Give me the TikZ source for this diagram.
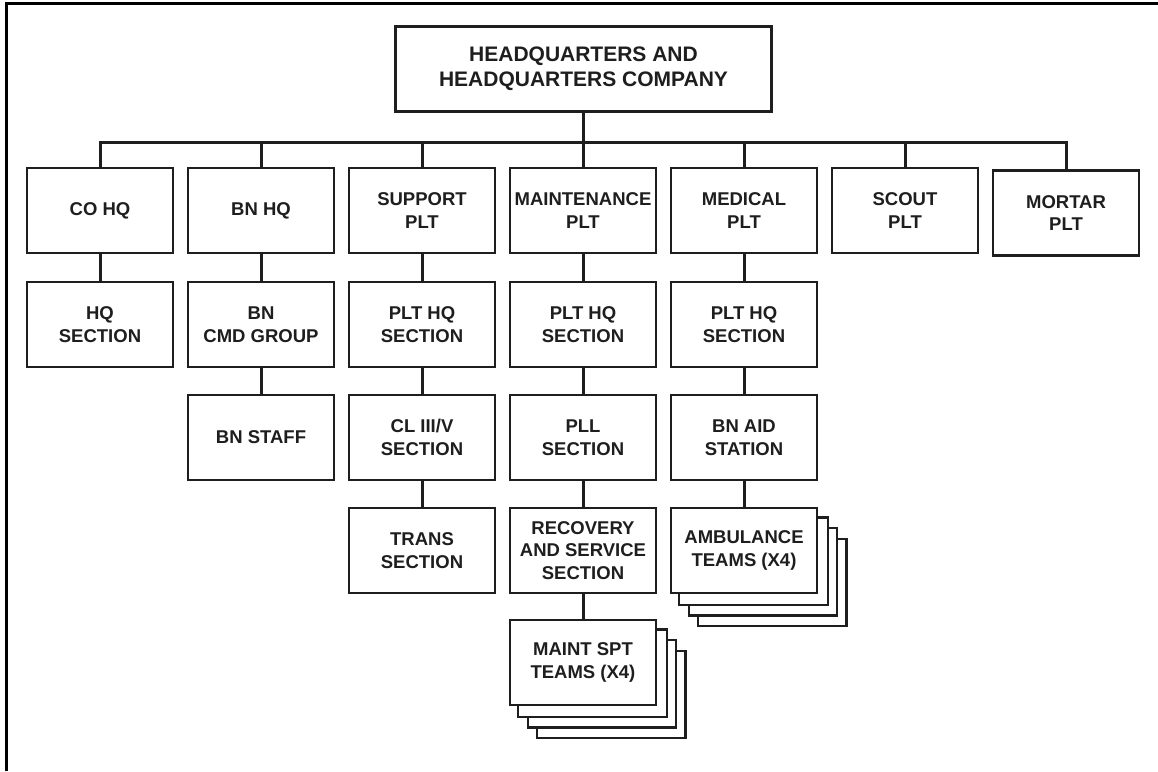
\documentclass[tikz,border=0pt]{standalone}
\usepackage{fontspec}
\setmainfont{Liberation Sans}
\usetikzlibrary{backgrounds}
\definecolor{ink}{HTML}{1E1E1E}
\tikzset{
  unit/.style={draw=ink, line width=2.4pt, fill=white, minimum width=146pt, minimum height=85pt,
    inner sep=1pt, align=center, text=ink, font=\fontsize{18.5}{22.5}\selectfont\bfseries},
  top/.style={draw=ink, line width=3.2pt, fill=white, minimum width=376pt, minimum height=85pt,
    inner sep=1pt, align=center, text=ink, font=\fontsize{21}{25}\selectfont\bfseries},
  link/.style={draw=ink, line width=3pt},
  copybox/.style={draw=ink, line width=2.2pt, fill=white},
  frame/.style={draw=black, line width=3pt}
}
\begin{document}
\begin{tikzpicture}[x=1pt,y=-1pt]
\useasboundingbox (0,0) rectangle (1158,771);
\draw[frame] (6,771) -- (6,3.5) -- (1158,3.5);

\node[top] (hq) at (583.5,69) {HEADQUARTERS AND\\HEADQUARTERS COMPANY};
\coordinate (bus) at (0,142);

% row 1
\node[unit] (co)  at (100,210.5) {CO HQ};
\node[unit] (bn)  at (261,210.5) {BN HQ};
\node[unit] (sup) at (422,210.5) {SUPPORT\\PLT};
\node[unit] (mnt) at (583,210.5) {MAINTENANCE\\PLT};
\node[unit] (med) at (744,210.5) {MEDICAL\\PLT};
\node[unit] (sct) at (905,210.5) {SCOUT\\PLT};
\node[unit] (mor) at (1066,213) {MORTAR\\PLT};

% row 2
\node[unit] (hqs)  at (100,324.5) {HQ\\SECTION};
\node[unit] (cmd)  at (261,324.5) {BN\\CMD GROUP};
\node[unit] (sphq) at (422,324.5) {PLT HQ\\SECTION};
\node[unit] (mphq) at (583,324.5) {PLT HQ\\SECTION};
\node[unit] (dphq) at (744,324.5) {PLT HQ\\SECTION};

% row 3
\node[unit] (stf) at (261,437.5) {BN STAFF};
\node[unit] (cl)  at (422,437.5) {CL III/V\\SECTION};
\node[unit] (pll) at (583,437.5) {PLL\\SECTION};
\node[unit] (aid) at (744,437.5) {BN AID\\STATION};

% row 4
\node[unit] (trn) at (422,550.5) {TRANS\\SECTION};
\node[unit] (rec) at (583,550.5) {RECOVERY\\AND SERVICE\\SECTION};
\node[unit] (amb) at (744,550.5) {AMBULANCE\\TEAMS (X4)};

% row 5
\node[unit] (msp) at (583,662.5) {MAINT SPT\\TEAMS (X4)};

% stacked copies
\begin{scope}[on background layer]
  \foreach \n in {msp,amb}{
    \foreach \k in {3,2,1}{
      \draw[copybox] ([shift={(\k*9.4,\k*10.6)}]\n.south west) rectangle ([shift={(\k*9.4,\k*10.6)}]\n.north east);
    }
  }
\end{scope}

% connectors
\draw[link] (hq.south) -- (hq.south |- bus);
\draw[link] (co.north) |- (mor.north |- bus) -- (mor.north);
\foreach \n in {bn,sup,mnt,med,sct}{
  \draw[link] (\n.north) -- (\n.north |- bus);
}
\draw[link] (co) -- (hqs);
\draw[link] (bn) -- (cmd);
\draw[link] (cmd) -- (stf);
\draw[link] (sup) -- (sphq);
\draw[link] (sphq) -- (cl);
\draw[link] (cl) -- (trn);
\draw[link] (mnt) -- (mphq);
\draw[link] (mphq) -- (pll);
\draw[link] (pll) -- (rec);
\draw[link] (rec) -- (msp);
\draw[link] (med) -- (dphq);
\draw[link] (dphq) -- (aid);
\draw[link] (aid) -- (amb);
\end{tikzpicture}
\end{document}
